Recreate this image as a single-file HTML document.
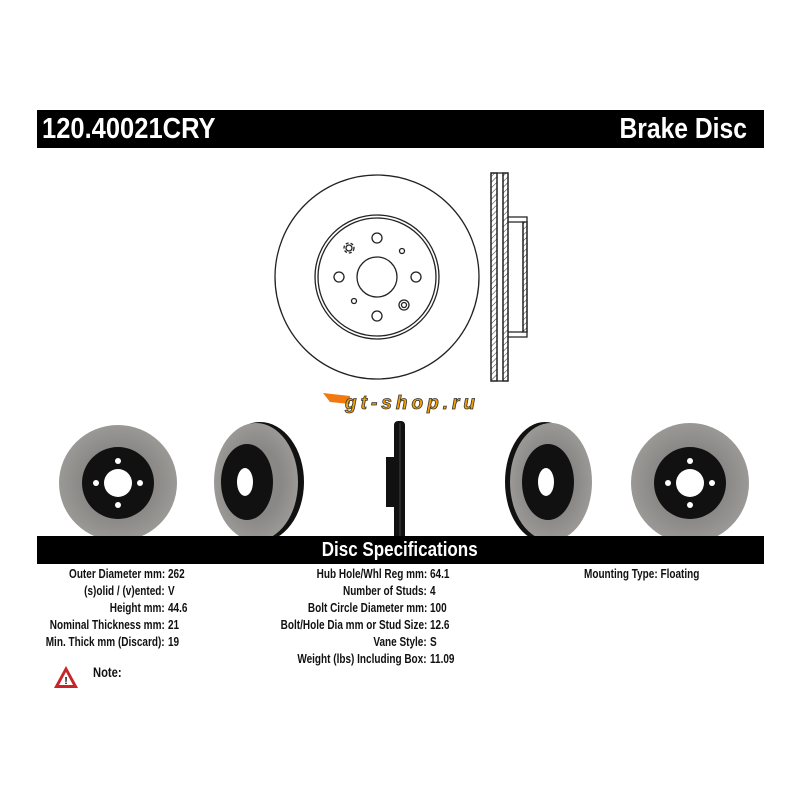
<!DOCTYPE html>
<html><head><meta charset="utf-8"><style>
body{margin:0;background:#fff;width:800px;height:800px;overflow:hidden;position:relative;font-family:"Liberation Sans",Arial,sans-serif}
.bar{position:absolute;background:#000;color:#fff;font-weight:bold}
.t{position:absolute;white-space:nowrap;font-weight:bold;font-size:12.5px;color:#111;line-height:16px}
.r{transform-origin:right center;transform:scaleX(0.8)}
.l{transform-origin:left center;transform:scaleX(0.8)}
</style></head><body>
<div class="bar" style="left:37px;top:110px;width:727px;height:38px"></div>
<div class="t l" style="left:42px;top:113px;font-size:29px;line-height:32px;color:#fff;transform:scaleX(0.88)">120.40021CRY</div>
<div class="t r" style="right:53px;top:113px;font-size:29px;line-height:32px;color:#fff;transform:scaleX(0.85)">Brake Disc</div>

<svg style="position:absolute;left:0;top:0" width="800" height="800">
<defs>
<pattern id="h" width="4" height="4" patternUnits="userSpaceOnUse" patternTransform="rotate(45)"><line x1="0" y1="0" x2="0" y2="4" stroke="#333" stroke-width="1"/></pattern>
<radialGradient id="g" cx="50%" cy="50%" r="50%"><stop offset="0.6" stop-color="#8a8886"/><stop offset="1" stop-color="#9b9996"/></radialGradient>
</defs>
<g fill="none" stroke="#222" stroke-width="1.3">
<circle cx="377" cy="277" r="102"/>
<circle cx="377" cy="277" r="62"/><circle cx="377" cy="277" r="59"/>
<circle cx="377" cy="277" r="20"/>
<circle cx="377" cy="238" r="5"/><circle cx="339" cy="277" r="5"/><circle cx="416" cy="277" r="5"/><circle cx="377" cy="316" r="5"/>
<circle cx="349" cy="248" r="3"/><circle cx="349" cy="248" r="5" stroke-dasharray="3 2"/>
<circle cx="402" cy="251" r="2.5"/><circle cx="354" cy="301" r="2.5"/>
<circle cx="404" cy="305" r="2.5"/><circle cx="404" cy="305" r="5"/>
<rect x="491" y="173" width="6" height="208" fill="url(#h)"/>
<rect x="503" y="173" width="5" height="208" fill="url(#h)"/>
<rect x="491" y="173" width="17" height="208"/>
<line x1="497" y1="173" x2="497" y2="381"/><line x1="503" y1="173" x2="503" y2="381"/>
<path d="M508 217 H527 V337 H508"/>
<path d="M508 222 H523 V332 H508"/>
<rect x="523" y="222" width="4" height="110" fill="url(#h)"/>
</g>
<ellipse cx="118" cy="483" rx="59" ry="58" fill="url(#g)"/>
<circle cx="118" cy="483" r="36" fill="#111"/>
<circle cx="118" cy="483" r="14" fill="#fff"/>
<g fill="#fff"><circle cx="118" cy="461" r="3"/><circle cx="118" cy="505" r="3"/><circle cx="96" cy="483" r="3"/><circle cx="140" cy="483" r="3"/></g>

<ellipse cx="260" cy="482" rx="44" ry="60" fill="#111"/>
<ellipse cx="256" cy="482" rx="42" ry="59" fill="url(#g)"/>
<ellipse cx="247" cy="482" rx="26" ry="38" fill="#111"/>
<ellipse cx="245" cy="482" rx="8" ry="14" fill="#fff"/>

<rect x="386" y="457" width="8" height="50" fill="#111"/>
<rect x="394" y="421" width="11" height="120" rx="4" fill="#111"/>
<line x1="400" y1="423" x2="400" y2="538" stroke="#444" stroke-width="1"/>

<ellipse cx="545" cy="482" rx="40" ry="60" fill="#111"/>
<ellipse cx="551" cy="482" rx="41" ry="59" fill="url(#g)"/>
<ellipse cx="548" cy="482" rx="26" ry="38" fill="#111"/>
<ellipse cx="546" cy="482" rx="8" ry="14" fill="#fff"/>

<ellipse cx="690" cy="483" rx="59" ry="60" fill="url(#g)"/>
<circle cx="690" cy="483" r="36" fill="#111"/>
<circle cx="690" cy="483" r="14" fill="#fff"/>
<g fill="#fff"><circle cx="690" cy="461" r="3"/><circle cx="690" cy="505" r="3"/><circle cx="668" cy="483" r="3"/><circle cx="712" cy="483" r="3"/></g>

<path d="M323 393 L350 396 L350 404 L330 402 Z" fill="#f07a10"/>
<text x="345" y="409" font-family="Liberation Sans" font-weight="bold" font-style="italic" font-size="19" fill="#f5a000" stroke="#333" stroke-width="0.8" textLength="130">gt-shop.ru</text>

<path d="M66 666 L78 688 L54 688 Z" fill="#c8242a"/>
<path d="M66 672 L73 685 L59 685 Z" fill="#fff"/>
<text x="66" y="684" text-anchor="middle" font-family="Liberation Sans" font-weight="bold" font-size="10" fill="#000">!</text>
</svg>

<div class="bar" style="left:37px;top:536px;width:727px;height:28px"></div>
<div class="t" style="left:0;width:800px;text-align:center;top:538px;font-size:20px;line-height:24px;color:#fff"><span style="display:inline-block;transform:scaleX(0.85)">Disc Specifications</span></div>

<div class="t r" style="right:635px;top:566px">Outer Diameter mm:</div><div class="t l" style="left:168px;top:566px">262</div>
<div class="t r" style="right:635px;top:583px">(s)olid / (v)ented:</div><div class="t l" style="left:168px;top:583px">V</div>
<div class="t r" style="right:635px;top:600px">Height mm:</div><div class="t l" style="left:168px;top:600px">44.6</div>
<div class="t r" style="right:635px;top:617px">Nominal Thickness mm:</div><div class="t l" style="left:168px;top:617px">21</div>
<div class="t r" style="right:635px;top:634px">Min. Thick mm (Discard):</div><div class="t l" style="left:168px;top:634px">19</div>

<div class="t r" style="right:373px;top:566px">Hub Hole/Whl Reg mm:</div><div class="t l" style="left:430px;top:566px">64.1</div>
<div class="t r" style="right:373px;top:583px">Number of Studs:</div><div class="t l" style="left:430px;top:583px">4</div>
<div class="t r" style="right:373px;top:600px">Bolt Circle Diameter mm:</div><div class="t l" style="left:430px;top:600px">100</div>
<div class="t r" style="right:373px;top:617px">Bolt/Hole Dia mm or Stud Size:</div><div class="t l" style="left:430px;top:617px">12.6</div>
<div class="t r" style="right:373px;top:634px">Vane Style:</div><div class="t l" style="left:430px;top:634px">S</div>
<div class="t r" style="right:373px;top:651px">Weight (lbs) Including Box:</div><div class="t l" style="left:430px;top:651px">11.09</div>

<div class="t l" style="left:584px;top:566px">Mounting Type: Floating</div>
<div class="t l" style="left:93px;top:664px;font-size:14px">Note:</div>
</body></html>
